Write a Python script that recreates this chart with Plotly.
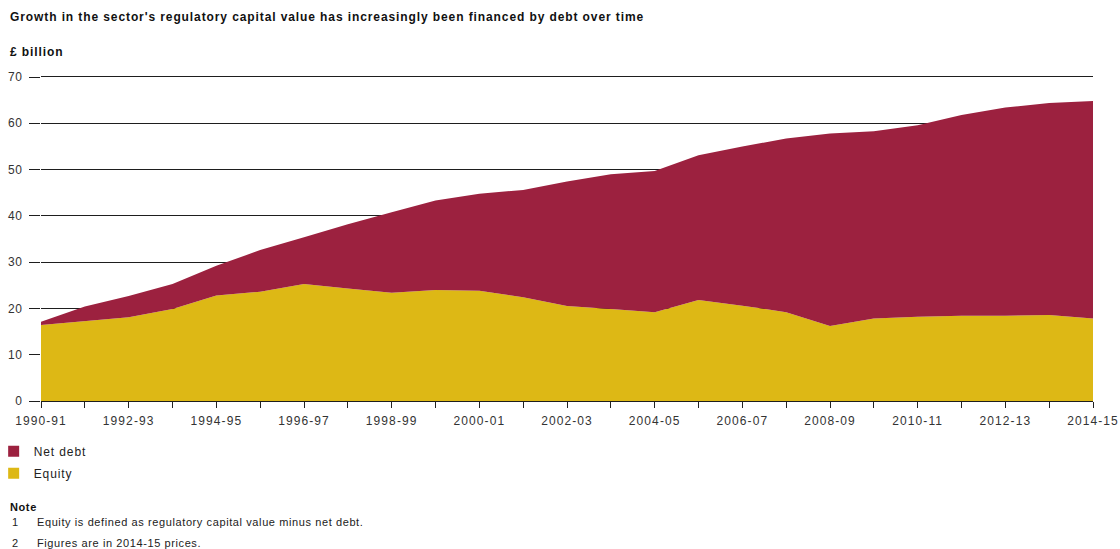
import plotly.graph_objects as go

years = ["1990-91", "1991-92", "1992-93", "1993-94", "1994-95", "1995-96", "1996-97",
         "1997-98", "1998-99", "1999-00", "2000-01", "2001-02", "2002-03", "2003-04",
         "2004-05", "2005-06", "2006-07", "2007-08", "2008-09", "2009-10", "2010-11",
         "2011-12", "2012-13", "2013-14", "2014-15"]
total_rcv = [17.1, 20.4, 22.7, 25.3, 29.2, 32.6, 35.4, 38.2, 40.8, 43.3, 44.8, 45.6, 47.4,
             49.0, 49.7, 53.1, 55.0, 56.7, 57.8, 58.3, 59.6, 61.8, 63.4, 64.4, 64.8]
equity = [16.4, 17.3, 18.1, 19.9, 22.8, 23.6, 25.3, 24.3, 23.4, 24.0, 23.8, 22.4, 20.5,
          19.9, 19.2, 21.8, 20.6, 19.2, 16.2, 17.8, 18.2, 18.4, 18.4, 18.6, 17.8]
net_debt = [round(t - e, 2) for t, e in zip(total_rcv, equity)]
y_ticks = [0, 10, 20, 30, 40, 50, 60, 70]

EQ = "#ddb815"
ND = "#9c213f"
GRID = "#1e1e1e"
FONT = "Liberation Sans, Arial, sans-serif"


def sp(text, ls):
    return f"<span style='letter-spacing:{ls}px'>{text}</span>"


x = list(range(len(years)))
ticktext = [sp(y, 1.1) if i % 2 == 0 else "" for i, y in enumerate(years)]

fig = go.Figure()
fig.add_trace(go.Scatter(x=x, y=equity, name="Equity", mode="lines", stackgroup="one",
                         line=dict(width=0, color=EQ), fillcolor=EQ, hoverinfo="skip",
                         showlegend=False))
fig.add_trace(go.Scatter(x=x, y=net_debt, name="Net debt", mode="lines", stackgroup="one",
                         line=dict(width=0, color=ND), fillcolor=ND, hoverinfo="skip",
                         showlegend=False))
# legend swatches
fig.add_trace(go.Scatter(x=[None], y=[None], mode="markers", name=sp("Net debt", 0.9),
                         marker=dict(symbol="square", size=11, color=ND), legendgroup="a"))
fig.add_trace(go.Scatter(x=[None], y=[None], mode="markers", name=sp("Equity", 0.9),
                         marker=dict(symbol="square", size=11, color=EQ), legendgroup="b"))

fig.update_layout(
    width=1120, height=549,
    margin=dict(l=41, r=27, t=77, b=148, autoexpand=False),
    paper_bgcolor="white", plot_bgcolor="white",
    font=dict(family=FONT, size=12, color="#222"),
    showlegend=True,
    legend=dict(x=-0.045, y=-0.11, xanchor="left", yanchor="top",
                font=dict(size=12, color="#222"), itemwidth=30, tracegroupgap=3,
                bgcolor="rgba(0,0,0,0)"),
    xaxis=dict(range=[0, 24], tickmode="array", tickvals=x, ticktext=ticktext,
               ticks="outside", ticklen=6, tickcolor="#222", tickwidth=1,
               showgrid=False, showline=True, mirror=True, linecolor=GRID, linewidth=1.4,
               tickfont=dict(size=12, color="#333"), zeroline=False, ticklabelstandoff=2),
    yaxis=dict(range=[0, 70], tickmode="array", tickvals=y_ticks,
               ticktext=[sp(str(v), 0.6) for v in y_ticks],
               ticks="outside", ticklen=11, tickcolor=GRID, tickwidth=1.2,
               showgrid=True, gridcolor=GRID, gridwidth=1.2, showline=False,
               zeroline=False, tickfont=dict(size=12, color="#333"), ticklabelstandoff=4),
)

ann_font = dict(size=12, color="#111")
fig.add_annotation(xref="paper", yref="paper", x=-0.0314, y=1.185, xanchor="left", yanchor="middle",
                   text="<b>" + sp("Growth in the sector's regulatory capital value has increasingly been financed by debt over time", 0.9) + "</b>",
                   showarrow=False, font=ann_font)
fig.add_annotation(xref="paper", yref="paper", x=-0.0314, y=1.077, xanchor="left", yanchor="middle",
                   text="<b>" + sp("£ billion", 0.9) + "</b>", showarrow=False, font=ann_font)
fig.add_annotation(xref="paper", yref="paper", x=-0.0314, y=-0.327, xanchor="left", yanchor="middle",
                   text="<b>" + sp("Note", 0.6) + "</b>", showarrow=False, font=dict(size=11, color="#111"))
note_nums = ["1", "2"]
note_texts = ["Equity is defined as regulatory capital value minus net debt.",
              "Figures are in 2014-15 prices."]
for num, txt, yy in zip(note_nums, note_texts, [-0.373, -0.438]):
    fig.add_annotation(xref="paper", yref="paper", x=-0.0295, y=yy, xanchor="left", yanchor="middle",
                       text=num, showarrow=False, font=dict(size=11, color="#222"))
    fig.add_annotation(xref="paper", yref="paper", x=-0.0057, y=yy, xanchor="left", yanchor="middle",
                       text=sp(txt, 0.6), showarrow=False, font=dict(size=11, color="#222"))

fig.write_html("out.html", config={"displayModeBar": False},
               post_script="document.body.style.margin='0';document.body.style.padding='0';")
